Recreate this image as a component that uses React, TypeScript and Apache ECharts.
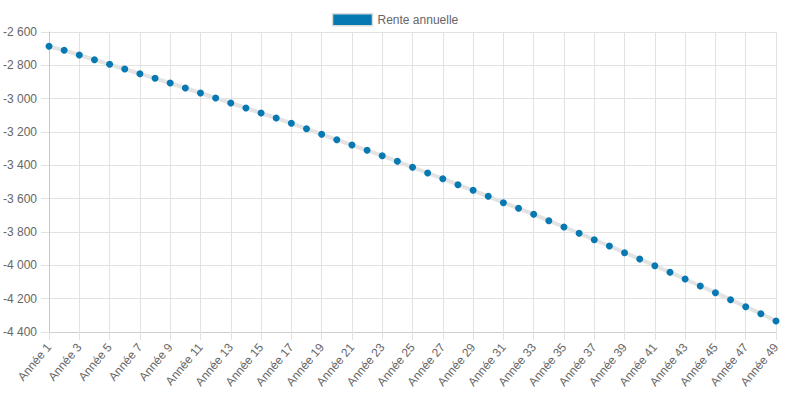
import React, { useEffect, useRef } from "react";
import * as echarts from "echarts";

const years: string[] = Array.from({ length: 49 }, (_, i) => `Année ${i + 1}`);

const renteValues: number[] = [
  -2686, -2710, -2738, -2766, -2794, -2822, -2850, -2878, -2906, -2936,
  -2966, -2996, -3026, -3056, -3086, -3116, -3148, -3180, -3214, -3246,
  -3278, -3310, -3342, -3376, -3412, -3446, -3480, -3516, -3550, -3586,
  -3624, -3658, -3694, -3732, -3770, -3808, -3846, -3884, -3924, -3962,
  -4002, -4042, -4082, -4124, -4164, -4206, -4248, -4290, -4334,
];

const seriesName = "Rente annuelle";
const yMin = -4400;
const yMax = -2600;
const yStep = 200;

const fmt = (v: number): string => {
  const s = Math.abs(v).toString().replace(/\B(?=(\d{3})+(?!\d))/g, " ");
  return (v < 0 ? "-" : "") + s;
};

export default function App() {
  const ref = useRef<HTMLDivElement>(null);
  useEffect(() => {
    if (!ref.current) return;
    const chart = echarts.init(ref.current, undefined, { renderer: "svg" });
    const font = "Arial, 'Liberation Sans', sans-serif";
    chart.setOption({
      animation: false,
      textStyle: { fontFamily: font },
      legend: {
        top: 8,
        left: "center",
        data: [seriesName],
        icon: "rect",
        itemWidth: 40,
        itemHeight: 12,
        itemGap: 10,
        textStyle: { color: "#666", fontSize: 12, fontFamily: font },
        itemStyle: { color: "#0678b2", borderColor: "#dcdcdc", borderWidth: 1.5 },
      },
      grid: { left: 47, right: 14, top: 32, bottom: 63, containLabel: false },
      xAxis: {
        type: "category",
        data: years,
        boundaryGap: false,
        axisLine: { show: true, lineStyle: { color: "#d0d0d0" } },
        axisTick: { show: true, interval: 1, length: 8, lineStyle: { color: "#e2e2e2" } },
        splitLine: { show: true, interval: 1, lineStyle: { color: "#e2e2e2" } },
        axisLabel: {
          interval: 1,
          rotate: 50,
          margin: 13,
          color: "#666",
          fontSize: 12,
          fontFamily: font,
        },
      },
      yAxis: {
        type: "value",
        min: yMin,
        max: yMax,
        interval: yStep,
        axisLine: { show: true, lineStyle: { color: "#c8c8c8" } },
        axisTick: { show: true, length: 8, lineStyle: { color: "#e2e2e2" } },
        splitLine: { show: true, lineStyle: { color: "#e2e2e2" } },
        axisLabel: {
          color: "#666",
          fontSize: 12,
          margin: 12,
          fontFamily: font,
          formatter: (v: number) => fmt(v),
        },
      },
      series: [
        {
          name: seriesName,
          type: "line",
          data: renteValues,
          symbol: "circle",
          symbolSize: 7,
          lineStyle: { color: "#e3e3e3", width: 4 },
          itemStyle: { color: "#0678b2", borderColor: "#0678b2", borderWidth: 0 },
          emphasis: { disabled: true },
        },
      ],
    });
    return () => chart.dispose();
  }, []);
  return (
    <div
      ref={ref}
      style={{ position: "fixed", left: 0, top: 0, width: 790, height: 395, background: "#fff" }}
    />
  );
}
